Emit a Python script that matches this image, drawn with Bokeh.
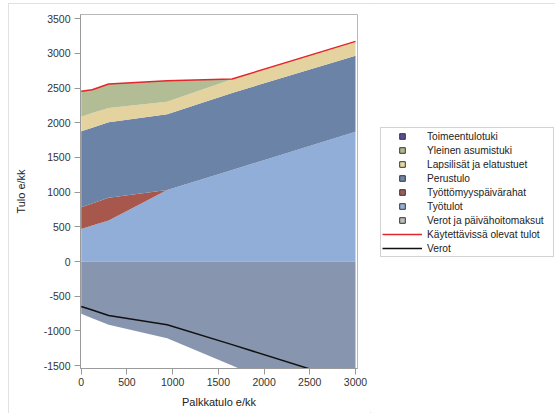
from bokeh.plotting import figure
from bokeh.layouts import row
from bokeh.models import (ColumnDataSource, Legend, LegendItem, Range1d, FixedTicker,
                          PrintfTickFormatter)
from bokeh.embed import file_html
from bokeh.resources import INLINE

# ---- data ----
palkka = [0, 120, 300, 940, 1650, 3000]
tyotulot = [470, 518, 590, 1030, 1320, 1870]
paivarahat = [313, 319, 328, 0, 0, 0]
perustulo = [1094, 1093, 1089, 1095, 1110, 1098]
lapsilisat = [212, 210, 208, 180, 200, 206]
asumistuki = [365, 338, 345, 300, 0, 0]
toimeentulotuki = [0, 0, 0, 0, 0, 0]
verot_maksut = [-754, -817, -912, -1105, -1500, -2260]
kaytettavissa = [2454, 2478, 2560, 2605, 2632, 3174]
verot = [-648, -700, -778, -912, -1199, -1756]

x_ticks = [0, 500, 1000, 1500, 2000, 2500, 3000]
y_ticks = [-1500, -1000, -500, 0, 500, 1000, 1500, 2000, 2500, 3000, 3500]

legend_labels = ["Toimeentulotuki", "Yleinen asumistuki", "Lapsilisät ja elatustuet",
                 "Perustulo", "Työttömyyspäivärahat", "Työtulot", "Verot ja päivähoitomaksut"]
line_labels = ["Käytettävissä olevat tulot", "Verot"]

FONT = "Liberation Sans"

src = ColumnDataSource(dict(
    x=palkka, tyotulot=tyotulot, paivarahat=paivarahat, perustulo=perustulo,
    lapsilisat=lapsilisat, asumistuki=asumistuki, toimeentulotuki=toimeentulotuki,
    verot_maksut=verot_maksut, kaytettavissa=kaytettavissa, verot=verot,
))

p = figure(width=362, height=410, output_backend="svg", toolbar_location=None,
           x_range=Range1d(-8, 3022), y_range=Range1d(-1543, 3562),
           min_border_left=72, min_border_right=13, min_border_top=11, min_border_bottom=45)

p.xgrid.visible = False
p.ygrid.visible = False
p.outline_line_color = "#b8b8b8"
p.background_fill_color = "white"

stack_cols = ["tyotulot", "paivarahat", "perustulo", "lapsilisat", "asumistuki", "toimeentulotuki"]
area_colors = ["#91aed8", "#a8574c", "#6b83a6", "#e4d29f", "#b3bd95", "#5c4b9c"]
p.varea_stack(stackers=stack_cols, x="x", source=src, color=area_colors)

p.varea(x="x", y1=0, y2="verot_maksut", source=src, fill_color="#8796ae")

p.line(x="x", y="kaytettavissa", source=src, line_color="#e3262b", line_width=1.5)
p.line(x="x", y="verot", source=src, line_color="#111111", line_width=1.5)

for ax in (p.xaxis[0], p.yaxis[0]):
    ax.axis_line_color = "#9a9a9a"
    ax.major_tick_line_color = "#9a9a9a"
    ax.minor_tick_line_color = None
    ax.major_tick_out = 6
    ax.major_tick_in = 0
    ax.major_label_text_font = FONT
    ax.major_label_text_font_size = "10.5px"
    ax.major_label_text_color = "#333333"
    ax.axis_label_text_font = FONT
    ax.axis_label_text_font_size = "11px"
    ax.axis_label_text_font_style = "normal"
    ax.axis_label_text_color = "#222222"
    ax.formatter = PrintfTickFormatter(format="%d")

p.xaxis.ticker = FixedTicker(ticks=x_ticks)
p.yaxis.ticker = FixedTicker(ticks=y_ticks)
p.xaxis.axis_label = "Palkkatulo e/kk"
p.yaxis.axis_label = "Tulo e/kk"
p.xaxis.major_label_standoff = 3
p.xaxis.axis_label_standoff = 7
p.yaxis.major_label_standoff = 4
p.yaxis.axis_label_standoff = 14

# ---- legend panel ----
pl = figure(width=185, height=410, output_backend="svg", toolbar_location=None,
            x_range=Range1d(0, 1), y_range=Range1d(0, 1),
            x_axis_type=None, y_axis_type=None,
            min_border_left=0, min_border_right=0, min_border_top=0, min_border_bottom=0)
pl.outline_line_color = None
pl.xgrid.visible = False
pl.ygrid.visible = False

swatch_colors = ["#5c4b9c", "#b2b88f", "#e6da9f", "#6f86a8", "#9c5d5a", "#97b0d6", "#bdbdbd"]
items = []
for lab, col in zip(legend_labels, swatch_colors):
    r = pl.scatter(x=[-10], y=[-10], marker="square", fill_color=col,
                   line_color="#333333", line_width=1)
    items.append(LegendItem(label=lab, renderers=[r]))
for lab, col in zip(line_labels, ["#e3262b", "#111111"]):
    r = pl.line(x=[-10, -9], y=[-10, -9], line_color=col, line_width=1.5)
    items.append(LegendItem(label=lab, renderers=[r]))

legend = Legend(items=items, location=(10, 111),
                glyph_width=40, glyph_height=14, label_height=14, label_width=125,
                spacing=0, padding=1, margin=0, label_standoff=5,
                label_text_font=FONT, label_text_font_size="10.2px", label_text_color="#222222",
                border_line_color="#a8a8a8", background_fill_color="white", background_fill_alpha=1)
pl.add_layout(legend)

layout = row(p, pl, margin=(3, 0, 3, 8),
             styles={"outline": "1px solid #d9d9d9", "outline-offset": "-1px"})
open("out.html", "w").write(file_html(layout, INLINE))
